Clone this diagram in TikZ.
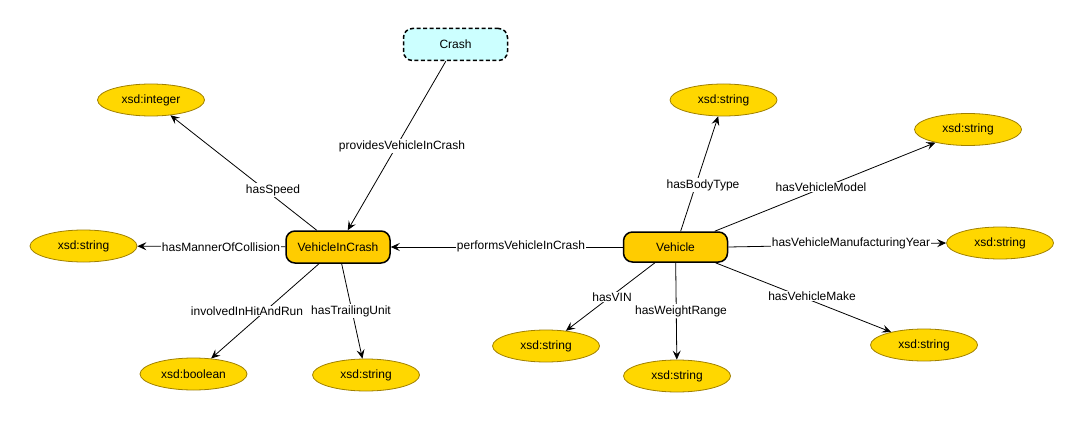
\documentclass[tikz,border=0pt]{standalone}
\usepackage{fontspec}
\setmainfont{Liberation Sans}
\usetikzlibrary{arrows.meta,shapes.geometric}
\definecolor{boxgold}{HTML}{FFCC00}
\definecolor{ellgold}{HTML}{FFD700}
\definecolor{ellline}{HTML}{A08000}
\definecolor{crashfill}{HTML}{CCFFFF}
\tikzset{
  cls/.style={draw=black, line width=1.5pt, fill=boxgold, rounded corners=9pt,
    minimum width=104pt, minimum height=32pt, inner sep=0pt, font=\fontsize{12}{14}\selectfont},
  crashbox/.style={cls, fill=crashfill, dashed, dash pattern=on 4pt off 2.5pt},
  dtype/.style={ellipse, draw=ellline, line width=0.8pt, fill=ellgold,
    minimum width=107pt, minimum height=32pt, inner sep=0pt, font=\fontsize{12}{14}\selectfont},
  edge/.style={draw=black, line width=0.8pt, -{Stealth[length=9pt,width=8pt,inset=3.5pt]}},
  lbl/.style={fill=white, inner sep=1pt, font=\fontsize{12}{14}\selectfont}
}
\begin{document}
\begin{tikzpicture}[x=1pt,y=-1pt]
\useasboundingbox (0,0) rectangle (1083,422);
% class nodes
\node[crashbox] (crash) at (455.5,44.5) {Crash};
\node[cls] (vic) at (338,247) {VehicleInCrash};
\node[cls, minimum height=30pt] (veh) at (675.5,247) {Vehicle};
% datatype nodes
\node[dtype] (int) at (151,100) {xsd:integer};
\node[dtype] (s1) at (83.5,246) {xsd:string};
\node[dtype] (bool) at (193.5,374) {xsd:boolean};
\node[dtype] (s2) at (366,375) {xsd:string};
\node[dtype] (s3) at (723.5,100) {xsd:string};
\node[dtype] (s4) at (968,129.5) {xsd:string};
\node[dtype] (s5) at (1000,243) {xsd:string};
\node[dtype] (s6) at (924,345) {xsd:string};
\node[dtype] (s7) at (546,346) {xsd:string};
\node[dtype] (s8) at (677,376) {xsd:string};
% edges
\draw[edge] (crash) -- (vic);
\draw[edge] (vic) -- (int);
\draw[edge] (vic) -- (s1);
\draw[edge] (vic) -- (bool);
\draw[edge] (vic) -- (s2);
\draw[edge] (veh) -- (vic);
\draw[edge] (veh) -- (s3);
\draw[edge] (veh) -- (s4);
\draw[edge] (veh.east) -- (s5.west);
\draw[edge] (veh) -- (s6);
\draw[edge] (veh) -- (s7);
\draw[edge] (veh) -- (s8);
% edge labels
\node[lbl] (l1) at (402,146) {providesVehicleInCrash};
\node[lbl] (l2) at (273,190) {hasSpeed};
\node[lbl] (l3) at (221,247) {hasMannerOfCollision};
\node[lbl] (l4) at (247,311) {involvedInHitAndRun};
\node[lbl] (l5) at (351,311) {hasTrailingUnit};
\node[lbl] (l6) at (521,246) {performsVehicleInCrash};
\node[lbl] (l7) at (703,185) {hasBodyType};
\node[lbl] (l8) at (821,187) {hasVehicleModel};
\node[lbl] (l9) at (851,243) {hasVehicleManufacturingYear};
\node[lbl] (l10) at (812,296) {hasVehicleMake};
\node[lbl] (l11) at (612,297) {hasVIN};
\node[lbl] (l12) at (681,311) {hasWeightRange};
\end{tikzpicture}
\end{document}
